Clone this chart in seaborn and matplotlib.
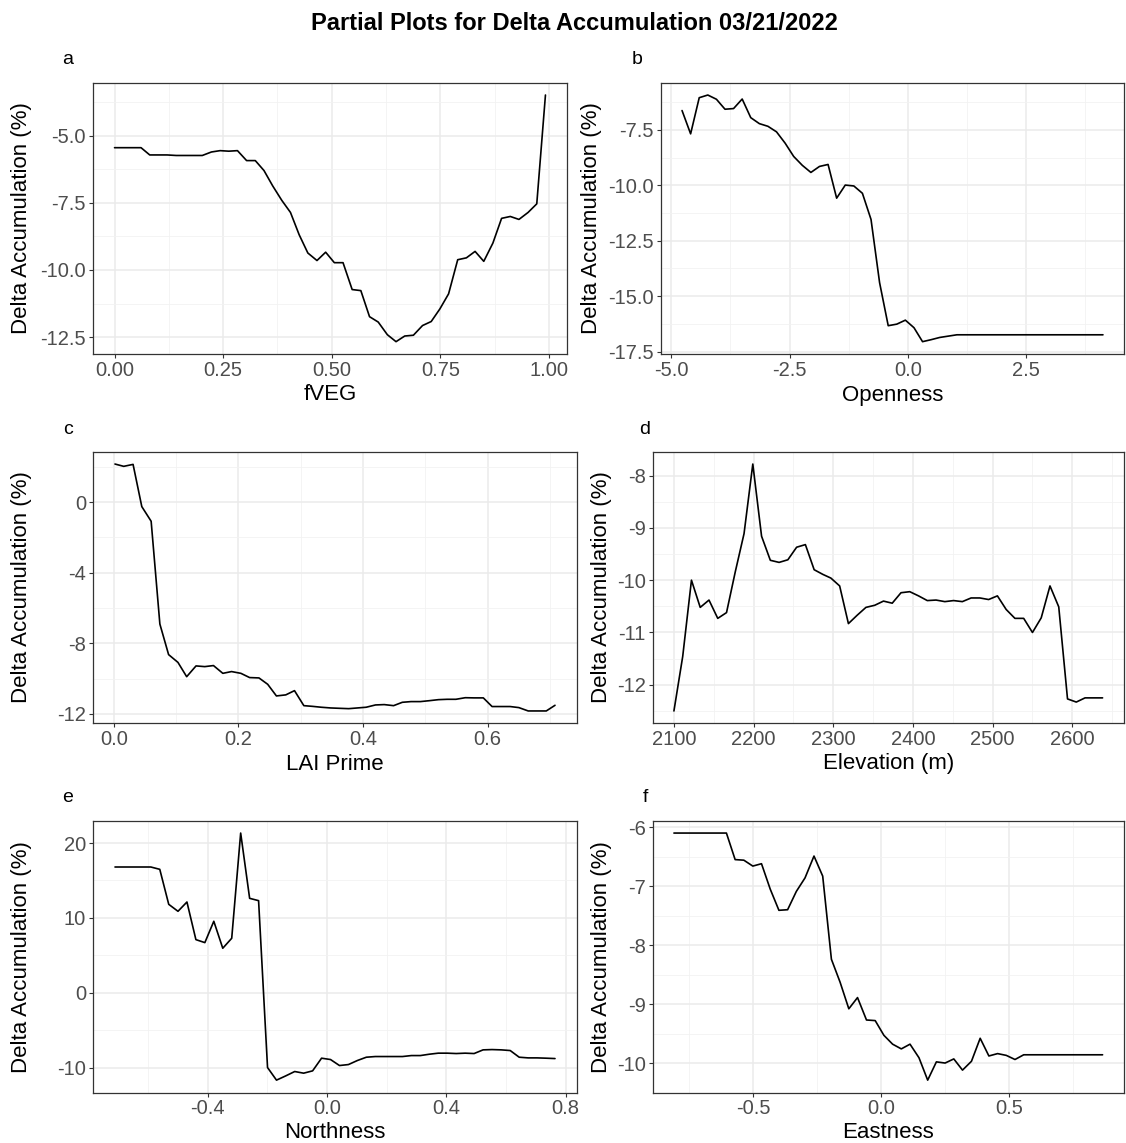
import numpy as np
import pandas as pd
import matplotlib
matplotlib.use("Agg")
import matplotlib.pyplot as plt
from matplotlib.ticker import MultipleLocator, AutoMinorLocator, FuncFormatter
import seaborn as sns

# ---------------- data ----------------
title = "Partial Plots for Delta Accumulation 03/21/2022"
ylabel = "Delta Accumulation (%)"

fveg_x = [0.000, 0.020, 0.040, 0.061, 0.081, 0.101, 0.121, 0.142, 0.162, 0.182,
          0.202, 0.223, 0.243, 0.263, 0.283, 0.304, 0.324, 0.344, 0.364, 0.385,
          0.405, 0.425, 0.445, 0.466, 0.486, 0.506, 0.526, 0.547, 0.567, 0.587,
          0.607, 0.628, 0.648, 0.668, 0.688, 0.709, 0.729, 0.749, 0.769, 0.790,
          0.810, 0.830, 0.850, 0.871, 0.891, 0.911, 0.931, 0.952, 0.972, 0.992]
fveg_y = [-5.45, -5.45, -5.45, -5.45, -5.72, -5.72, -5.72, -5.74, -5.74, -5.74,
          -5.74, -5.61, -5.56, -5.58, -5.56, -5.93, -5.93, -6.30, -6.87, -7.41,
          -7.86, -8.69, -9.37, -9.65, -9.34, -9.73, -9.73, -10.73, -10.77, -11.74,
          -11.94, -12.41, -12.67, -12.46, -12.43, -12.07, -11.92, -11.45, -10.89, -9.62,
          -9.55, -9.31, -9.68, -9.00, -8.08, -8.01, -8.12, -7.86, -7.54, -3.49]

open_x = [-4.770, -4.589, -4.407, -4.226, -4.044, -3.863, -3.682, -3.500, -3.319, -3.137,
          -2.956, -2.775, -2.593, -2.412, -2.230, -2.049, -1.868, -1.686, -1.505, -1.323,
          -1.142, -0.961, -0.779, -0.598, -0.416, -0.235, -0.054, 0.128, 0.309, 0.491,
          0.672, 0.853, 1.035, 1.216, 1.398, 1.579, 1.760, 1.942, 2.123, 2.305,
          2.486, 2.667, 2.849, 3.030, 3.212, 3.393, 3.574, 3.756, 3.937, 4.119]
open_y = [-6.63, -7.68, -6.05, -5.93, -6.12, -6.57, -6.54, -6.11, -6.95, -7.22,
          -7.34, -7.59, -8.10, -8.70, -9.10, -9.42, -9.15, -9.06, -10.58, -9.99,
          -10.03, -10.36, -11.54, -14.39, -16.33, -16.26, -16.08, -16.42, -17.05, -16.96,
          -16.86, -16.80, -16.74, -16.74, -16.74, -16.74, -16.74, -16.74, -16.74, -16.74,
          -16.74, -16.74, -16.74, -16.74, -16.74, -16.74, -16.74, -16.74, -16.74, -16.74]

lai_x = [0.002, 0.016, 0.031, 0.045, 0.060, 0.074, 0.088, 0.103, 0.117, 0.132,
         0.146, 0.160, 0.175, 0.189, 0.204, 0.218, 0.233, 0.247, 0.261, 0.276,
         0.290, 0.305, 0.319, 0.333, 0.348, 0.362, 0.377, 0.391, 0.405, 0.420,
         0.434, 0.449, 0.463, 0.477, 0.492, 0.506, 0.521, 0.535, 0.549, 0.564,
         0.578, 0.593, 0.607, 0.622, 0.636, 0.650, 0.665, 0.679, 0.694, 0.708]
lai_y = [2.15, 2.02, 2.13, -0.26, -1.09, -6.91, -8.64, -9.08, -9.89, -9.28,
         -9.32, -9.26, -9.70, -9.60, -9.70, -9.94, -9.96, -10.32, -10.98, -10.92,
         -10.68, -11.53, -11.57, -11.62, -11.66, -11.68, -11.70, -11.66, -11.62, -11.49,
         -11.47, -11.53, -11.34, -11.30, -11.30, -11.25, -11.19, -11.17, -11.17, -11.08,
         -11.09, -11.09, -11.58, -11.58, -11.58, -11.64, -11.83, -11.83, -11.83, -11.51]

elev_x = [2100, 2111, 2122, 2133, 2144, 2155, 2166, 2177, 2188, 2199,
          2210, 2221, 2232, 2243, 2254, 2265, 2276, 2287, 2297, 2308,
          2319, 2330, 2341, 2352, 2363, 2374, 2385, 2396, 2407, 2418,
          2429, 2440, 2451, 2462, 2473, 2484, 2495, 2506, 2517, 2528,
          2539, 2550, 2561, 2572, 2583, 2594, 2605, 2616, 2627, 2638]
elev_y = [-12.50, -11.46, -10.00, -10.52, -10.38, -10.73, -10.62, -9.84, -9.11, -7.78,
          -9.16, -9.62, -9.66, -9.61, -9.37, -9.32, -9.80, -9.89, -9.96, -10.11,
          -10.83, -10.67, -10.52, -10.48, -10.40, -10.44, -10.24, -10.22, -10.30, -10.39,
          -10.38, -10.41, -10.39, -10.41, -10.34, -10.34, -10.37, -10.30, -10.56, -10.73,
          -10.73, -11.00, -10.72, -10.11, -10.51, -12.27, -12.33, -12.25, -12.25, -12.25]

north_x = [-0.710, -0.680, -0.650, -0.620, -0.590, -0.560, -0.530, -0.499, -0.469, -0.439,
           -0.409, -0.379, -0.349, -0.319, -0.289, -0.259, -0.229, -0.199, -0.169, -0.138,
           -0.108, -0.078, -0.048, -0.018, 0.012, 0.042, 0.072, 0.102, 0.132, 0.162,
           0.192, 0.223, 0.253, 0.283, 0.313, 0.343, 0.373, 0.403, 0.433, 0.463,
           0.493, 0.523, 0.553, 0.584, 0.614, 0.644, 0.674, 0.704, 0.734, 0.764]
north_y = [16.80, 16.80, 16.80, 16.80, 16.80, 16.49, 11.82, 10.89, 12.13, 7.11,
           6.71, 9.56, 5.96, 7.29, 21.33, 12.62, 12.31, -9.96, -11.64, -11.07,
           -10.49, -10.71, -10.40, -8.71, -8.89, -9.69, -9.56, -9.02, -8.58, -8.49,
           -8.49, -8.49, -8.49, -8.36, -8.36, -8.18, -8.04, -8.04, -8.09, -8.04,
           -8.09, -7.60, -7.56, -7.60, -7.69, -8.58, -8.67, -8.67, -8.71, -8.76]

east_x = [-0.809, -0.775, -0.741, -0.706, -0.672, -0.638, -0.604, -0.570, -0.536, -0.501,
          -0.467, -0.433, -0.399, -0.365, -0.331, -0.297, -0.262, -0.228, -0.194, -0.160,
          -0.126, -0.092, -0.057, -0.023, 0.011, 0.045, 0.079, 0.113, 0.148, 0.182,
          0.216, 0.250, 0.284, 0.318, 0.353, 0.387, 0.421, 0.455, 0.489, 0.523,
          0.557, 0.592, 0.626, 0.660, 0.694, 0.728, 0.762, 0.797, 0.831, 0.865]
east_y = [-6.10, -6.10, -6.10, -6.10, -6.10, -6.10, -6.10, -6.55, -6.56, -6.66,
          -6.62, -7.05, -7.41, -7.40, -7.09, -6.86, -6.49, -6.83, -8.24, -8.63,
          -9.08, -8.89, -9.27, -9.28, -9.53, -9.68, -9.76, -9.68, -9.91, -10.29,
          -9.98, -10.00, -9.93, -10.12, -9.97, -9.58, -9.88, -9.84, -9.87, -9.94,
          -9.86, -9.86, -9.86, -9.86, -9.86, -9.86, -9.86, -9.86, -9.86, -9.86]

panel_letters = ["a", "b", "c", "d", "e", "f"]
x_titles = ["fVEG", "Openness", "LAI Prime", "Elevation (m)", "Northness", "Eastness"]

# ---------------- style ----------------
sns.set_theme(style="white")
plt.rcParams["font.family"] = ["Liberation Sans", "DejaVu Sans"]
plt.rcParams["axes.unicode_minus"] = False

W, H = 1126, 1143
fig = plt.figure(figsize=(W / 100, H / 100), dpi=100)
fig.patch.set_facecolor("white")

# (left, right, top, bottom) in pixels
boxes = [
    (93, 567, 82.7, 354),
    (661, 1124, 82.7, 354),
    (93, 577, 451.7, 723.3),
    (652.5, 1124, 451.7, 723.3),
    (93, 577, 820.7, 1092.5),
    (652.5, 1124, 820.7, 1092.5),
]
ylab_x = [22, 592, 22, 601, 22, 601]
xlab_y = [395, 395, 764, 764, 1132, 1132]
letter_pos = [(68, 60), (637, 60), (68, 430), (645, 430), (68, 798), (645, 798)]

series = [(fveg_x, fveg_y), (open_x, open_y), (lai_x, lai_y),
          (elev_x, elev_y), (north_x, north_y), (east_x, east_y)]
xsteps = [0.25, 2.5, 0.2, 100, 0.4, 0.5]
ysteps = [2.5, 2.5, 4, 1, 10, 1]
xfmt = ["%.2f", "%.1f", "%.1f", "%.0f", "%.1f", "%.1f"]
yfmt = ["%.1f", "%.1f", "%.0f", "%.0f", "%.0f", "%.0f"]


def make_fmt(f):
    return FuncFormatter(lambda v, p: f % (round(v, 6) + 0.0))


for i, ((x, y), (l, r, t, b)) in enumerate(zip(series, boxes)):
    ax = fig.add_axes([l / W, 1 - b / H, (r - l) / W, (b - t) / H])
    df = pd.DataFrame({"x": x, "y": y})
    sns.lineplot(data=df, x="x", y="y", ax=ax, color="black", linewidth=1.2,
                 estimator=None, sort=False)
    ax.margins(x=0.05, y=0.05)
    ax.xaxis.set_major_locator(MultipleLocator(xsteps[i]))
    ax.yaxis.set_major_locator(MultipleLocator(ysteps[i]))
    ax.xaxis.set_minor_locator(AutoMinorLocator(2))
    ax.yaxis.set_minor_locator(AutoMinorLocator(2))
    ax.xaxis.set_major_formatter(make_fmt(xfmt[i]))
    ax.yaxis.set_major_formatter(make_fmt(yfmt[i]))
    ax.grid(which="major", color="#EBEBEB", linewidth=1.1)
    ax.grid(which="minor", color="#F2F2F2", linewidth=0.6)
    ax.set_axisbelow(True)
    for s in ax.spines.values():
        s.set_color("#333333")
        s.set_linewidth(0.9)
    ax.tick_params(which="major", direction="out", length=2.75, width=0.8,
                   color="#333333", labelcolor="#4D4D4D", labelsize=14.5, pad=2.2,
                   bottom=True, left=True)
    ax.tick_params(which="minor", length=0)
    ax.set_xlabel(x_titles[i], fontsize=16, color="black")
    ax.set_ylabel(ylabel, fontsize=16, color="black")
    ax.xaxis.label.set_va("center")
    ax.yaxis.label.set_va("center")
    ax.xaxis.set_label_coords(((l + r) / 2) / W, 1 - xlab_y[i] / H, transform=fig.transFigure)
    ax.yaxis.set_label_coords(ylab_x[i] / W, 1 - ((t + b) / 2) / H, transform=fig.transFigure)
    lx, ly = letter_pos[i]
    fig.text(lx / W, 1 - ly / H, panel_letters[i], ha="center", va="center",
             fontsize=14, color="black")

fig.text(574 / W, 1 - 24 / H, title, ha="center", va="center",
         fontsize=17, fontweight="bold", color="black")

fig.savefig("out.png", dpi=100, facecolor="white")
